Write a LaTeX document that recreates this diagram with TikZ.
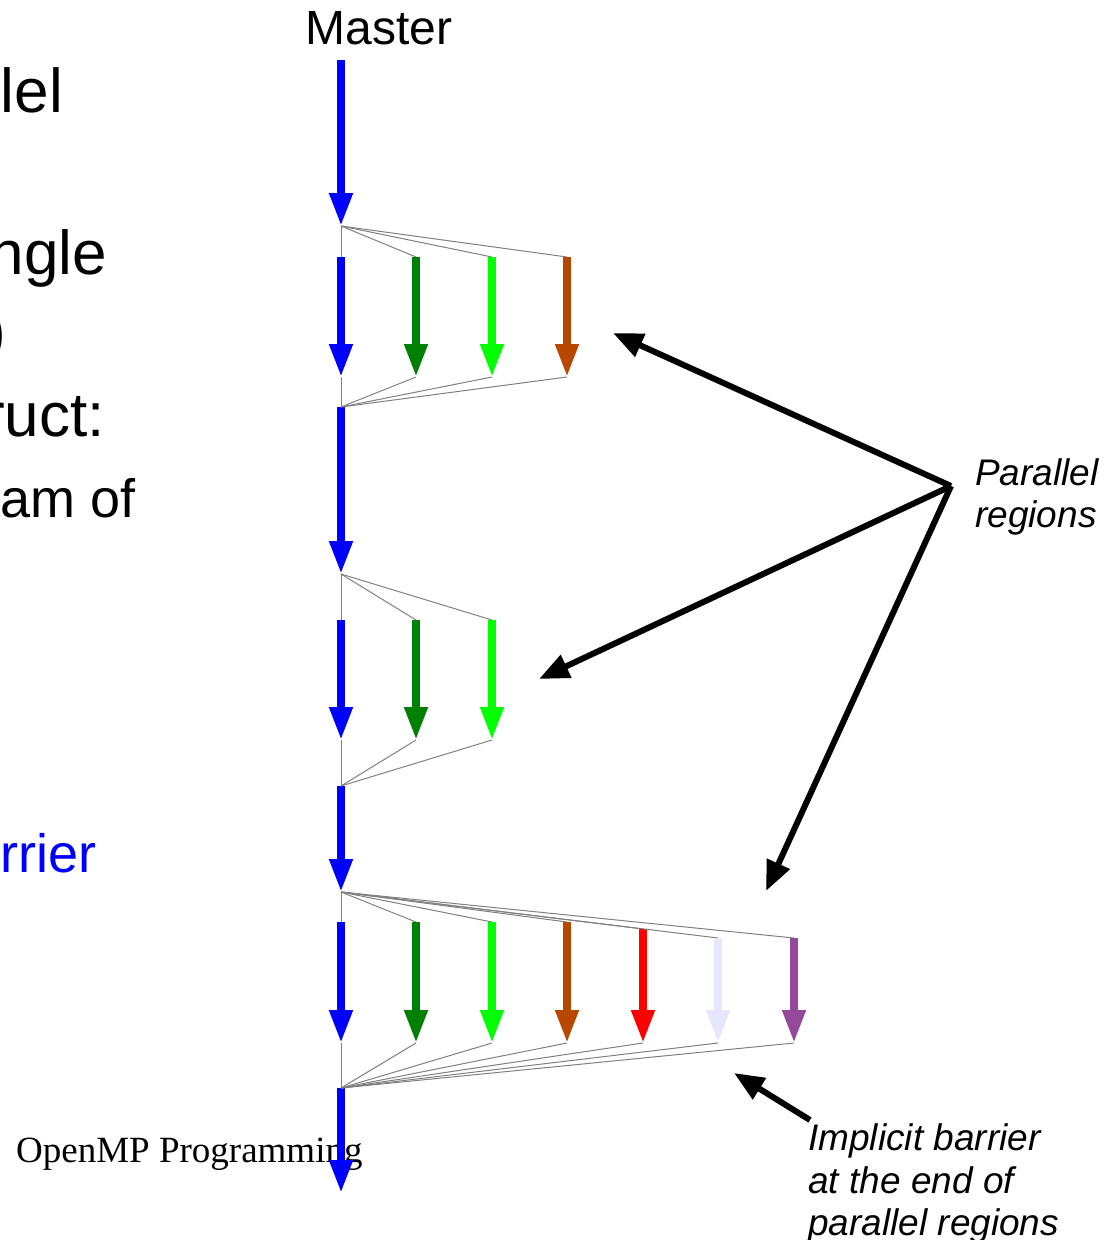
\documentclass[tikz,border=0pt]{standalone}
\usepackage{fontspec}
\setmainfont{Liberation Sans}
\newfontfamily\serifface{Liberation Serif}
\usetikzlibrary{arrows.meta}
\definecolor{thblue}{RGB}{0,0,255}
\definecolor{thgreen}{RGB}{0,128,0}
\definecolor{thlime}{RGB}{0,255,0}
\definecolor{thorange}{RGB}{184,71,0}
\definecolor{thred}{RGB}{255,0,0}
\definecolor{thlav}{RGB}{230,230,255}
\definecolor{thpurple}{RGB}{148,73,155}
\definecolor{linkgray}{RGB}{128,128,128}
\tikzset{
  thread/.style={line width=7.5pt,-{Triangle[length=33pt,width=22pt]}},
  graylink/.style={linkgray,line width=1pt},
  pointer/.style={black,line width=6pt,-{Triangle[length=30pt,width=24pt]}},
  txt/.style={inner sep=0pt,anchor=base west},
  txtr/.style={inner sep=0pt,anchor=base east},
  big/.style={font=\fontsize{62}{74}\selectfont},
  mid/.style={font=\fontsize{54}{64}\selectfont},
  note/.style={font=\fontsize{37}{42}\selectfont\itshape},
}
\begin{document}
\begin{tikzpicture}[x=1pt,y=-1pt]
\useasboundingbox (0,0) rectangle (1119,1240);
% left text fragments
\node[txtr,big] (t1) at (63,112) {lel};
\node[txtr,big] (t2) at (107,274) {ngle};
\node[txtr,big] (t3) at (6,352) {)};
\node[txtr,big] (t4) at (105,436) {ruct:};
\node[txtr,mid] (t5) at (136,517) {am of};
\node[txtr,mid,text=thblue] (t6) at (97,872) {rrier};
\node[txt,font=\serifface\fontsize{37}{42}\selectfont] (foot) at (16,1162) {OpenMP Programming};
% title
\node[inner sep=0pt,anchor=base,font=\fontsize{48}{58}\selectfont] (master) at (379,44) {Master};
% master segments
\coordinate (m0) at (341,60);
\coordinate (F1) at (341,226);
\coordinate (J1) at (341,407);
\coordinate (F2) at (341,574);
\coordinate (J2) at (341,786);
\coordinate (F3) at (341,892);
\coordinate (J3) at (341,1088);
\coordinate (mend) at (341,1193);
\draw[thread,thblue] (m0) -- (F1);
\draw[thread,thblue] (J1) -- (F2);
\draw[thread,thblue] (J2) -- (F3);
\draw[thread,thblue] (J3) -- (mend);
% region 1
\foreach \i/\x/\c in {0/341/thblue,1/416/thgreen,2/492/thlime,3/567/thorange}{
  \coordinate (a-t\i) at (\x,257);
  \coordinate (a-b\i) at (\x,377);
  \draw[graylink] (F1) -- (a-t\i);
  \draw[graylink] (a-b\i) -- (J1);
  \draw[thread,\c] (a-t\i) -- (a-b\i);
}
% region 2
\foreach \i/\x/\c in {0/341/thblue,1/416/thgreen,2/492/thlime}{
  \coordinate (b-t\i) at (\x,620);
  \coordinate (b-b\i) at (\x,740);
  \draw[graylink] (F2) -- (b-t\i);
  \draw[graylink] (b-b\i) -- (J2);
  \draw[thread,\c] (b-t\i) -- (b-b\i);
}
% region 3
\foreach \i/\x/\y/\c in {0/341/922/thblue,1/416/922/thgreen,2/492/922/thlime,3/567/922/thorange,4/643/929/thred,5/718/938/thlav,6/794/938/thpurple}{
  \coordinate (c-t\i) at (\x,\y);
  \coordinate (c-b\i) at (\x,1043);
  \draw[graylink] (F3) -- (c-t\i);
  \draw[graylink] (c-b\i) -- (J3);
  \draw[thread,\c] (c-t\i) -- (c-b\i);
}
% annotations
\coordinate (hub) at (951,486);
\coordinate (p1) at (613,333);
\coordinate (p2) at (539,679);
\coordinate (p3) at (766,891);
\draw[pointer] (hub) -- (p1);
\draw[pointer] (hub) -- (p2);
\draw[pointer] (hub) -- (p3);
\node[txt,note] (pr1) at (975,485) {Parallel};
\node[txt,note] (pr2) at (975,527) {regions};
\coordinate (ibtail) at (810,1120);
\coordinate (ibtip) at (734,1073);
\draw[pointer] (ibtail) -- (ibtip);
\node[txt,note] (ib1) at (808,1150) {Implicit barrier};
\node[txt,note] (ib2) at (808,1193) {at the end of};
\node[txt,note] (ib3) at (808,1235) {parallel regions};
\end{tikzpicture}
\end{document}
